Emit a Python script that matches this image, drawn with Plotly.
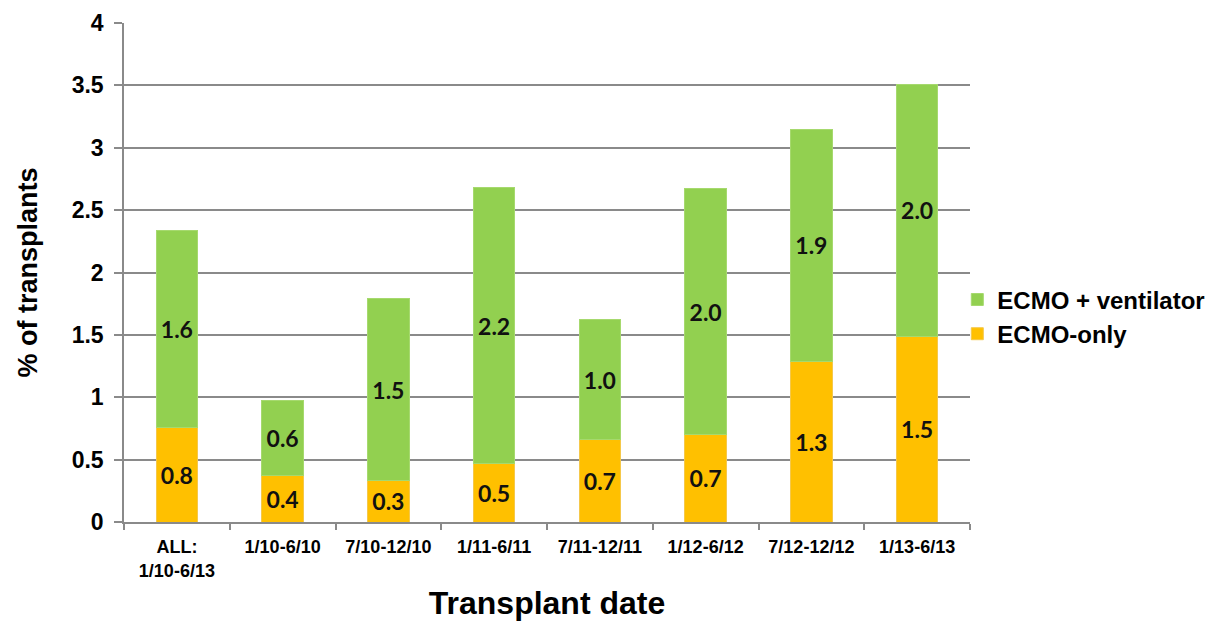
import plotly.graph_objects as go

# Share of transplants bridged on ECMO, by transplant period
periods = ["ALL:<br>1/10-6/13", "1/10-6/10", "7/10-12/10", "1/11-6/11",
           "7/11-12/11", "1/12-6/12", "7/12-12/12", "1/13-6/13"]
ecmo_only = [0.76, 0.37, 0.33, 0.47, 0.66, 0.70, 1.29, 1.49]
ecmo_vent = [1.58, 0.60, 1.46, 2.21, 0.96, 1.97, 1.86, 2.02]

y_ticks = [0, 0.5, 1, 1.5, 2, 2.5, 3, 3.5, 4]
y_tick_text = ["0", "0.5", "1", "1.5", "2", "2.5", "3", "3.5", "4"]

GREEN = "#92D050"
ORANGE = "#FFC000"
GRID = "#8A8A8A"
SANS = "Liberation Sans, Arial, sans-serif"
LABEL_FONT = dict(family="Lato, Liberation Sans, sans-serif", size=23, color="#111111")

fig = go.Figure()
fig.add_trace(go.Bar(
    name="ECMO-only", x=periods, y=ecmo_only, legendgroup="only",
    marker=dict(color=ORANGE, line=dict(color="#F5C84A", width=1)),
    texttemplate="<b>%{y:.1f}</b>", textposition="inside",
    insidetextanchor="middle", textangle=0,
    textfont=LABEL_FONT,
))
fig.add_trace(go.Bar(
    name="ECMO + ventilator", x=periods, y=ecmo_vent, legendgroup="vent",
    marker=dict(color=GREEN, line=dict(color="#A6D96E", width=1)),
    texttemplate="<b>%{y:.1f}</b>", textposition="inside",
    insidetextanchor="middle", textangle=0,
    textfont=LABEL_FONT,
))

fig.update_layout(
    barmode="stack",
    bargap=0.607,
    width=1225, height=621,
    margin=dict(l=124, r=255, t=23, b=99, autoexpand=False),
    paper_bgcolor="white", plot_bgcolor="white",
    font=dict(family=SANS, color="#000000"),
    uniformtext=dict(mode=False),
    legend=dict(
        traceorder="reversed",
        x=0.985, xanchor="left", y=0.411, yanchor="middle",
        font=dict(size=24, family=SANS, weight="bold"),
        itemwidth=30, tracegroupgap=10,
        bgcolor="rgba(0,0,0,0)",
    ),
    showlegend=True,
)

fig.update_yaxes(
    range=[0, 4], tickvals=y_ticks, ticktext=y_tick_text,
    showgrid=True, gridcolor=GRID, gridwidth=1.5,
    showline=True, linecolor=GRID, linewidth=1.5,
    ticks="outside", ticklen=8, tickcolor=GRID, tickwidth=1.5,
    tickfont=dict(size=23, weight="bold"),
    ticklabelstandoff=6,
    zeroline=False,
    title=dict(text="% of transplants", font=dict(size=27, weight="bold"), standoff=26),
)
fig.update_xaxes(
    showline=True, linecolor=GRID, linewidth=1.5,
    ticks="outside", tickson="boundaries", ticklen=6, tickcolor=GRID, tickwidth=1.5,
    tickfont=dict(size=18, weight="bold"),
    ticklabelstandoff=8,
    title=dict(text="Transplant date", font=dict(size=32, weight="bold"), standoff=20),
)

fig.write_html("out.html")
